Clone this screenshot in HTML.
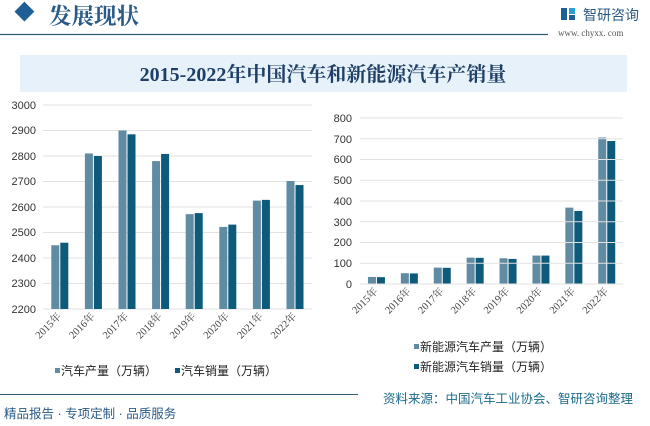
<!DOCTYPE html>
<html><head><meta charset="utf-8"><style>
body{margin:0;width:650px;height:421px;overflow:hidden;background:#fff;font-family:"Liberation Sans","Noto Sans CJK SC",sans-serif}
</style></head><body>
<svg width="650" height="421" xmlns="http://www.w3.org/2000/svg">
<rect x="0" y="0" width="650" height="421" fill="#fff"/>
<rect x="16" y="4" width="14" height="14" fill="#1f5f95" transform="rotate(45 23 13)"/>
<text x="49" y="24" font-family="'Noto Serif CJK SC',serif" font-weight="bold" font-size="22.5" fill="#2a5a86">发展现状</text>
<line x1="0" y1="34.5" x2="548" y2="34.5" stroke="#2d5a70" stroke-width="1.2"/>
<rect x="561" y="8" width="6" height="12" fill="#1f5f95"/><rect x="569" y="8" width="6" height="6" fill="#2a9fd6"/><rect x="569" y="15" width="6" height="5" fill="#1f5f95"/>
<text x="583" y="20" font-size="14" fill="#2a5a86" font-family="'Noto Sans CJK SC',sans-serif">智研咨询</text>
<text x="558" y="36" font-size="9" fill="#555" font-family="'Liberation Serif',serif">www. chyxx. com</text>
<rect x="20" y="55" width="607" height="37" fill="#e6f1f9"/>
<text x="323" y="81" text-anchor="middle" font-family="'Liberation Serif','Noto Serif CJK SC',serif" font-weight="bold" font-size="20" fill="#1f3f66">2015-2022年中国汽车和新能源汽车产销量</text>
<g font-size="11" fill="#333" text-anchor="end">
<text x="36" y="109">3000</text><text x="36" y="134">2900</text><text x="36" y="160">2800</text><text x="36" y="185">2700</text><text x="36" y="211">2600</text><text x="36" y="236">2500</text><text x="36" y="262">2400</text><text x="36" y="287">2300</text><text x="36" y="313">2200</text>
</g>
<g stroke="#e2e2e2" stroke-width="1">
<line x1="43" y1="105" x2="312" y2="105"/><line x1="43" y1="130.5" x2="312" y2="130.5"/><line x1="43" y1="156" x2="312" y2="156"/><line x1="43" y1="181.5" x2="312" y2="181.5"/><line x1="43" y1="207" x2="312" y2="207"/><line x1="43" y1="232.5" x2="312" y2="232.5"/><line x1="43" y1="258" x2="312" y2="258"/><line x1="43" y1="283.5" x2="312" y2="283.5"/><line x1="43" y1="309" x2="312" y2="309"/>
</g>
<g id="L"></g>
<g id="R"></g>
<g font-size="12" fill="#222">
<rect x="55" y="368" width="5" height="5" fill="#5f8ba3"/><text x="61" y="375">汽车产量（万辆）</text>
<rect x="175" y="368" width="5" height="5" fill="#0d5a7a"/><text x="181" y="375">汽车销量（万辆）</text>
</g>
<g font-size="11" fill="#333" text-anchor="end">
<text x="352" y="122">800</text><text x="352" y="143">700</text><text x="352" y="163">600</text><text x="352" y="184">500</text><text x="352" y="205">400</text><text x="352" y="226">300</text><text x="352" y="246">200</text><text x="352" y="267">100</text><text x="352" y="288">0</text>
</g>
<g stroke="#e2e2e2" stroke-width="1">
<line x1="360" y1="118" x2="623" y2="118"/><line x1="360" y1="138.75" x2="623" y2="138.75"/><line x1="360" y1="159.5" x2="623" y2="159.5"/><line x1="360" y1="180.25" x2="623" y2="180.25"/><line x1="360" y1="201" x2="623" y2="201"/><line x1="360" y1="221.75" x2="623" y2="221.75"/><line x1="360" y1="242.5" x2="623" y2="242.5"/><line x1="360" y1="263.25" x2="623" y2="263.25"/><line x1="360" y1="284" x2="623" y2="284"/>
</g>
<g font-size="12" fill="#222">
<rect x="414" y="344" width="5" height="5" fill="#5f8ba3"/><text x="420" y="351">新能源汽车产量（万辆）</text>
<rect x="414" y="364" width="5" height="5" fill="#0d5a7a"/><text x="420" y="371">新能源汽车销量（万辆）</text>
</g>
<line x1="0" y1="394.5" x2="358" y2="394.5" stroke="#2d5a70" stroke-width="1"/>
<text x="383" y="403" font-size="12.5" fill="#1b6a8a">资料来源：中国汽车工业协会、智研咨询整理</text>
<text x="4" y="418" font-size="12.5" fill="#2a5a86">精品报告 · 专项定制 · 品质服务</text>
<script>
var ns="http://www.w3.org/2000/svg";
function bars(g,x0,w,y0,sc,base,a,b){
 var G=document.getElementById(g);
 for(var i=0;i<8;i++){
  var c=x0+w*(i+0.5);
  [[a[i],"#5f8ba3",c-8.5],[b[i],"#0d5a7a",c+0.5]].forEach(function(d){
   var r=document.createElementNS(ns,"rect");var h=(d[0]-base)*sc;
   r.setAttribute("x",d[2]);r.setAttribute("width",8);r.setAttribute("y",y0-h);r.setAttribute("height",h);r.setAttribute("fill",d[1]);G.appendChild(r);});
  var t=document.createElementNS(ns,"text");var tx=c+2,ty=y0+8;
  t.setAttribute("x",tx);t.setAttribute("y",ty);t.setAttribute("text-anchor","end");t.setAttribute("font-size","10.5");t.setAttribute("fill","#444");
  t.setAttribute("font-family","'Liberation Serif','Noto Serif CJK SC',serif");
  t.setAttribute("transform","rotate(-45 "+tx+" "+ty+")");t.textContent=(2015+i)+"年";G.appendChild(t);
 }}
bars("L",43,33.6,309,0.255,2200,[2450,2810,2900,2780,2572,2522,2625,2702],[2460,2800,2885,2808,2576,2531,2628,2686]);
bars("R",360,32.9,284,0.2075,0,[34,52,79,127,124,137,368,706],[33,51,78,126,121,137,352,689]);
</script>
</svg>
</body></html>
